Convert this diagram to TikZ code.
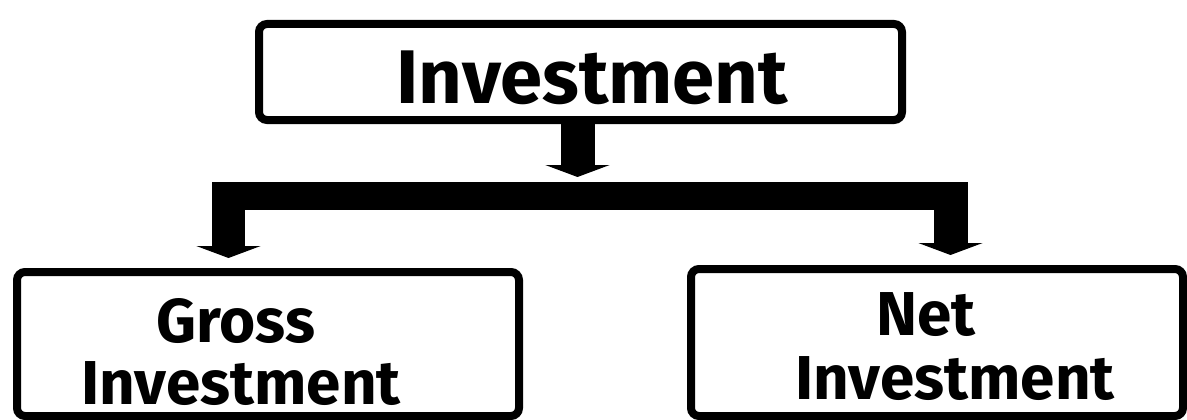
\documentclass[tikz,border=0pt]{standalone}
\usepackage{fontspec}
\setmainfont{Fira Sans}
\usetikzlibrary{arrows.meta}
\begin{document}
\begin{tikzpicture}[x=1pt,y=-1pt,
  box/.style={draw=black, line width=8pt, rounded corners=8pt, fill=white, inner sep=0pt},
  bigtxt/.style={font=\bfseries\fontsize{76}{80}\selectfont, anchor=base, inner sep=0pt},
  smalltxt/.style={font=\bfseries\fontsize{62}{66}\selectfont, anchor=base, inner sep=0pt},
  conn/.style={line width=34pt, -{Triangle[width=64pt,length=12pt]}},
  barline/.style={line width=28pt}
]
\useasboundingbox[fill=white] (0,0) rectangle (1187,420);
% boxes
\node[box, minimum width=643pt, minimum height=96pt] (top) at (580.5,72) {};
\node[box, minimum width=502pt, minimum height=144pt] (gross) at (268,344) {};
\node[box, minimum width=492pt, minimum height=147pt] (net) at (937,342.5) {};
% texts
\node[bigtxt] (ttop) at (592,103) {Investment};
\node[smalltxt] (tg1) at (236,342) {Gross};
\node[smalltxt] (tg2) at (241,404) {Investment};
\node[smalltxt] (tn1) at (926,335) {Net};
\node[smalltxt] (tn2) at (955,399) {Investment};
% connectors
\coordinate (tipM) at (577.5,177);
\coordinate (barLo) at (212,196);
\coordinate (barRo) at (968,196);
\coordinate (barL) at (228.5,196);
\coordinate (barR) at (950.5,196);
\draw[conn] (tipM |- top.south) -- (tipM);
\draw[barline] (barLo) -- (barRo);
\draw[conn, line width=33pt, shorten >=10pt] (barL) -- (barL |- gross.north);
\draw[conn, shorten >=10pt] (barR) -- (barR |- net.north);
\end{tikzpicture}
\end{document}
